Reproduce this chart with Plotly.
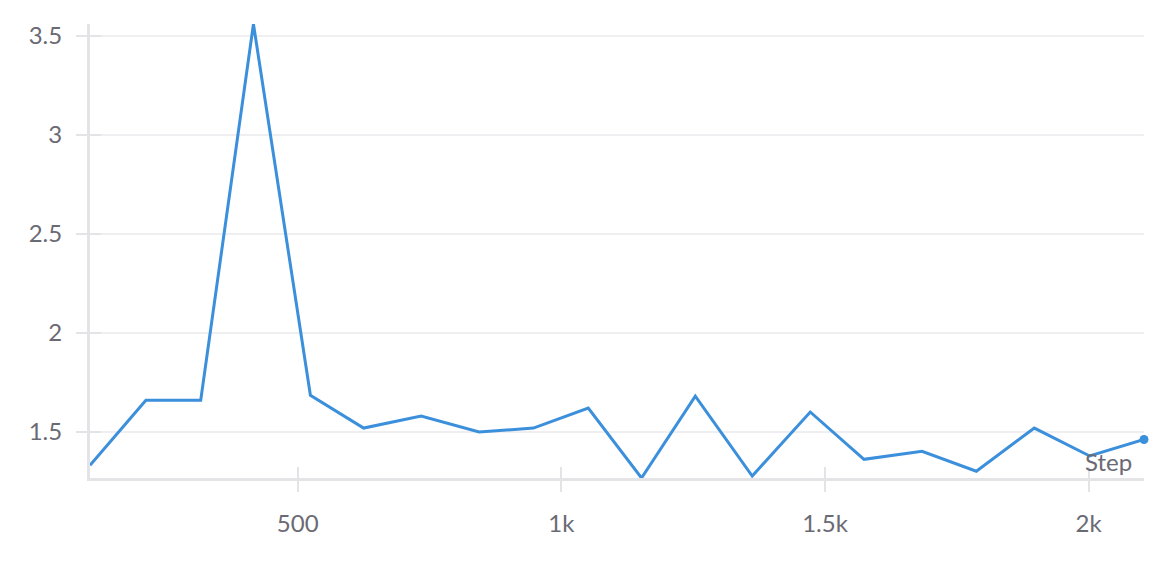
import plotly.graph_objects as go

# Logged metric vs training step
steps = [106, 212, 316, 416, 524, 625, 734, 844, 947, 1051,
         1152, 1254, 1362, 1472, 1574, 1684, 1787, 1897, 2002, 2105]
values = [1.332, 1.660, 1.660, 3.558, 1.685, 1.520, 1.581, 1.500, 1.520, 1.621,
          1.268, 1.681, 1.278, 1.601, 1.362, 1.403, 1.302, 1.520, 1.379, 1.462]

x_tickvals = [500, 1000, 1500, 2000]
x_ticktext = ["500", "1k", "1.5k", "2k"]
y_tickvals = [1.5, 2, 2.5, 3, 3.5]
y_ticktext = ["1.5", "2", "2.5", "3", "3.5"]

LINE = "#3b8fdb"
TEXT = "#6a6a75"
AXIS = "#e4e4e6"
GRID = "#efeff1"
FONT = "Lato, 'Open Sans', sans-serif"

fig = go.Figure()

fig.add_trace(go.Scatter(x=steps, y=values, mode="lines",
                         line=dict(color=LINE, width=3),
                         hoverinfo="skip", showlegend=False))
# dot on the most recent value
fig.add_trace(go.Scatter(x=steps[-1:], y=values[-1:], mode="markers",
                         marker=dict(color=LINE, size=9),
                         hoverinfo="skip", showlegend=False, cliponaxis=False))
# invisible copy on overlay axes, only used to draw the inner half of the ticks
fig.add_trace(go.Scatter(x=steps, y=values, mode="lines", xaxis="x2", yaxis="y2",
                         line=dict(color="rgba(0,0,0,0)", width=0),
                         hoverinfo="skip", showlegend=False))

x_range = [min(steps), max(steps)]
y_range = [min(values), max(values)]

# page body adds an 8px offset, so the figure is a bit smaller than the window
fig.update_layout(
    width=1155, height=553,
    margin=dict(l=82, r=19, t=16, b=83),
    plot_bgcolor="white", paper_bgcolor="white",
    font=dict(family=FONT, size=24, color=TEXT),
    showlegend=False,
    xaxis=dict(range=x_range, tickvals=x_tickvals, ticktext=x_ticktext,
               showgrid=False, zeroline=False,
               showline=True, linecolor=AXIS, linewidth=3,
               ticks="outside", ticklen=11, tickwidth=2, tickcolor=AXIS,
               ticklabelstandoff=11),
    yaxis=dict(range=y_range, tickvals=y_tickvals, ticktext=y_ticktext,
               showgrid=True, gridcolor=GRID, gridwidth=1.5, zeroline=False,
               showline=True, linecolor=AXIS, linewidth=3,
               ticks="outside", ticklen=11, tickwidth=2, tickcolor=AXIS,
               ticklabelstandoff=9),
    xaxis2=dict(overlaying="x", matches="x", range=x_range, tickvals=x_tickvals,
                showticklabels=False, showgrid=False, zeroline=False,
                ticks="inside", ticklen=11, tickwidth=2, tickcolor=AXIS),
    yaxis2=dict(overlaying="y", matches="y", range=y_range, tickvals=y_tickvals,
                showticklabels=False, showgrid=False, zeroline=False,
                ticks="inside", ticklen=11, tickwidth=2, tickcolor=AXIS),
    annotations=[dict(text="Step", xref="paper", yref="paper", x=1, y=0,
                      xanchor="right", yanchor="bottom", xshift=-10, yshift=0,
                      showarrow=False, font=dict(family=FONT, size=24, color=TEXT))],
)

fig.write_html("out.html")
